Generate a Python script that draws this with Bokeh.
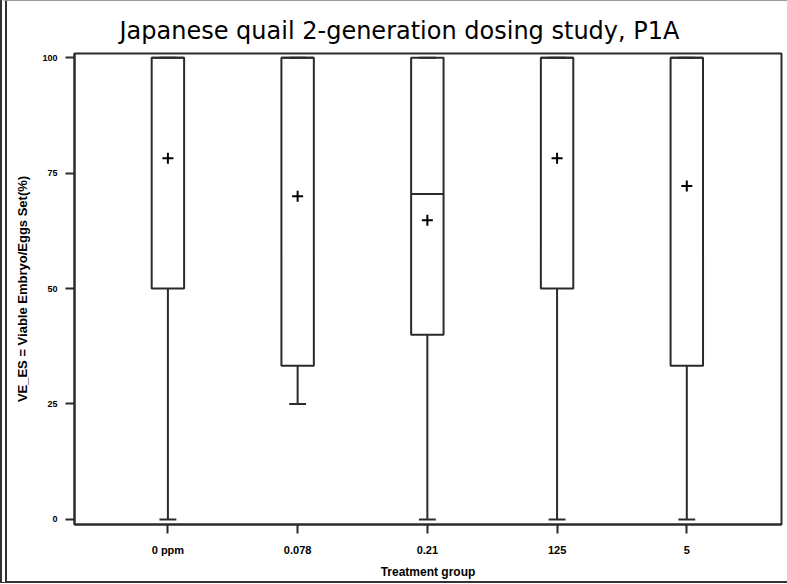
from bokeh.plotting import figure
from bokeh.models import Range1d, FixedTicker
from bokeh.layouts import column
from bokeh.embed import file_html
from bokeh.resources import INLINE

# ---- data ----
groups = ["0 ppm", "0.078", "0.21", "125", "5"]
xpos = [1, 2, 3, 4, 5]
q1 = [50.0, 33.3, 40.0, 50.0, 33.3]
median = [100.0, 100.0, 70.5, 100.0, 100.0]
q3 = [100.0, 100.0, 100.0, 100.0, 100.0]
whisk_lo = [0.0, 25.0, 0.0, 0.0, 0.0]
whisk_hi = [100.0, 100.0, 100.0, 100.0, 100.0]
means = [78.2, 70.0, 64.8, 78.2, 72.2]
yticks = [0, 25, 50, 75, 100]

BOX_W = 0.25
CAP_W = 0.13
LC = "#2b2b2b"
FONT = "Liberation Sans"

p = figure(width=780, height=580,
           x_range=Range1d(0.28, 5.73), y_range=Range1d(-1.1, 100.9),
           output_backend="svg", toolbar_location=None,
           min_border_left=67, min_border_right=6,
           min_border_top=52, min_border_bottom=57)

p.title.text = "Japanese quail 2-generation dosing study, P1A"
p.title.align = "left"
p.title.text_font = "DejaVu Sans"
p.title.text_font_size = "24px"
p.title.text_font_style = "normal"
p.title.text_color = "black"
p.title.offset = 45
p.title.standoff = 17

p.outline_line_color = LC
p.outline_line_width = 2
p.outline_line_alpha = 1
p.xgrid.visible = False
p.ygrid.visible = False
p.background_fill_color = "white"
p.border_fill_color = "white"

for ax in (p.xaxis[0], p.yaxis[0]):
    ax.axis_line_color = LC
    ax.axis_line_width = 2
    ax.major_tick_line_color = LC
    ax.major_tick_line_width = 2
    ax.major_tick_out = 9
    ax.major_tick_in = 0
    ax.minor_tick_line_color = None
    ax.major_label_text_font = FONT
    ax.major_label_text_font_style = "bold"
    ax.major_label_text_color = "black"
    ax.axis_label_text_font = FONT
    ax.axis_label_text_font_style = "bold"
    ax.axis_label_text_color = "black"

p.xaxis.ticker = FixedTicker(ticks=xpos)
p.xaxis.major_label_overrides = {x: g for x, g in zip(xpos, groups)}
p.xaxis.major_label_text_font_size = "11px"
p.xaxis.major_label_standoff = 10
p.xaxis.axis_label = "Treatment group"
p.xaxis.axis_label_text_font_size = "12px"
p.xaxis.axis_label_standoff = 6

p.yaxis.ticker = FixedTicker(ticks=yticks)
p.yaxis.major_label_text_font_size = "9px"
p.yaxis.major_label_standoff = 8
p.yaxis.axis_label = "VE_ES = Viable Embryo/Eggs Set(%)"
p.yaxis.axis_label_text_font_size = "13px"
p.yaxis.axis_label_standoff = 9

left = [x - BOX_W / 2 for x in xpos]
right = [x + BOX_W / 2 for x in xpos]
cap_l = [x - CAP_W / 2 for x in xpos]
cap_r = [x + CAP_W / 2 for x in xpos]

# whiskers
p.segment(x0=xpos, y0=q1, x1=xpos, y1=whisk_lo, line_color=LC, line_width=2)
p.segment(x0=xpos, y0=q3, x1=xpos, y1=whisk_hi, line_color=LC, line_width=2)
p.segment(x0=cap_l, y0=whisk_lo, x1=cap_r, y1=whisk_lo, line_color=LC, line_width=2)
p.segment(x0=cap_l, y0=whisk_hi, x1=cap_r, y1=whisk_hi, line_color=LC, line_width=2)
# boxes
p.quad(left=left, right=right, bottom=q1, top=q3, fill_color=None,
       line_color=LC, line_width=2)
# medians
p.segment(x0=left, y0=median, x1=right, y1=median, line_color=LC, line_width=2)
# means
p.scatter(x=xpos, y=means, marker="cross", size=11, line_color="black", line_width=2)

layout = column(p, styles={"border-left": "7px double #333",
                           "border-bottom": "2px solid #333",
                           "border-top": "1px solid #999"})

open("out.html", "w").write(file_html(layout, INLINE))
